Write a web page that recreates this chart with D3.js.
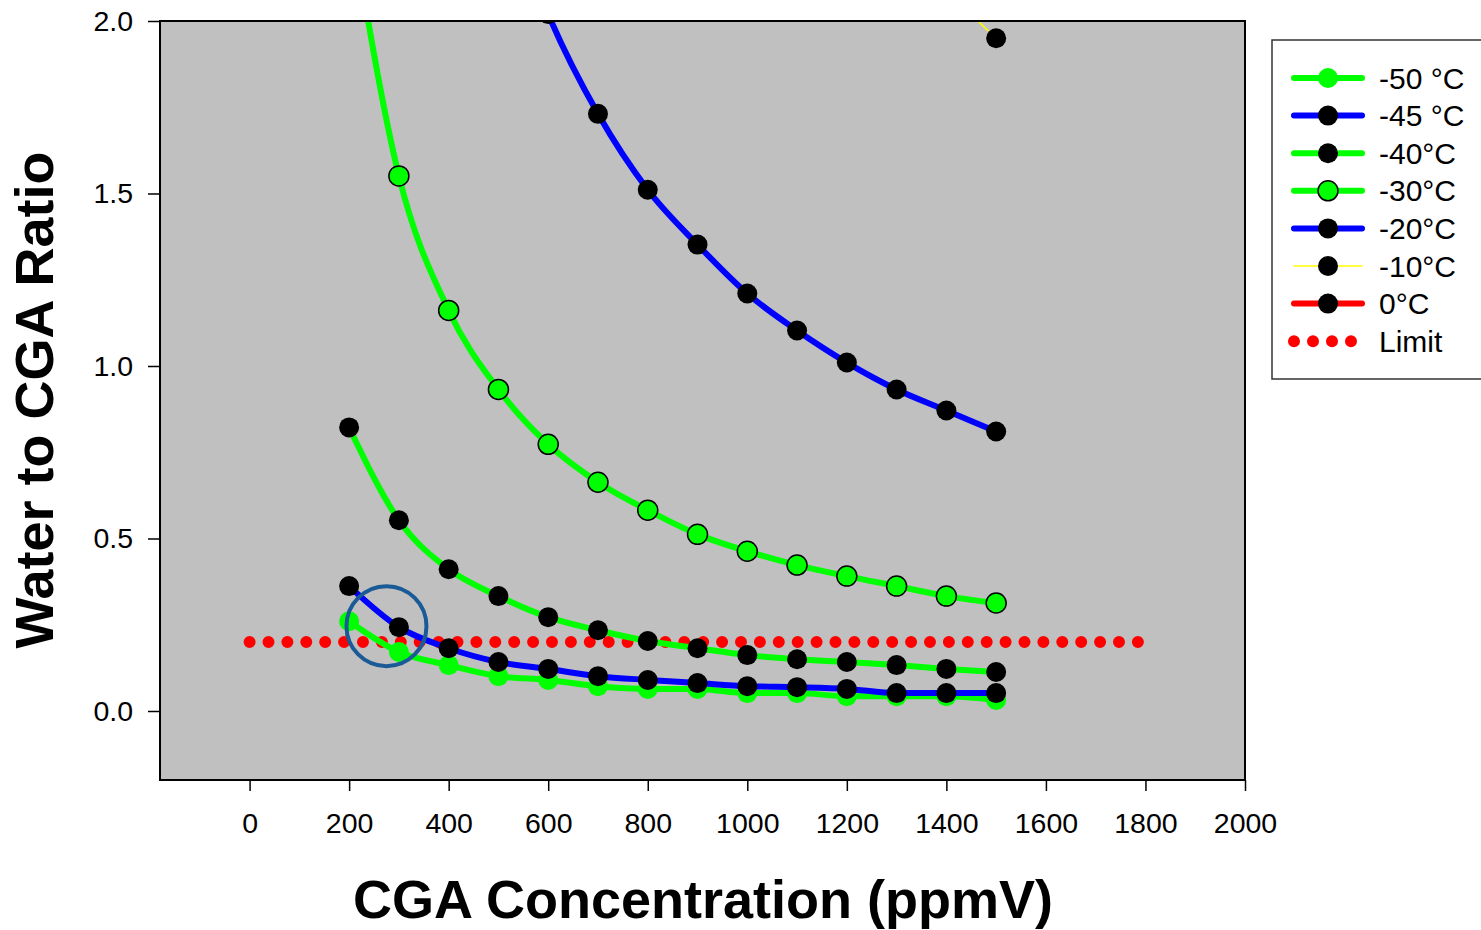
<!DOCTYPE html>
<html>
<head>
<meta charset="utf-8">
<script src="https://cdn.jsdelivr.net/npm/d3@7"></script>
<style>
  body { margin: 0; background: #fff; }
  text { font-family: "Liberation Sans", Arial, sans-serif; }
</style>
</head>
<body>
<div id="chart"></div>
<script>
// CGA concentration (ppmV)
var conc = [200, 300, 400, 500, 600, 700, 800, 900, 1000, 1100, 1200, 1300, 1400, 1500];

// water to CGA ratio, one array per temperature
var m50 = [0.26, 0.171, 0.133, 0.101, 0.090, 0.072, 0.064, 0.064, 0.052, 0.052, 0.043, 0.043, 0.043, 0.032];
var m45 = [0.362, 0.243, 0.182, 0.142, 0.122, 0.101, 0.090, 0.081, 0.072, 0.069, 0.064, 0.052, 0.052, 0.052];
var m40 = [0.822, 0.553, 0.411, 0.333, 0.272, 0.234, 0.203, 0.182, 0.162, 0.150, 0.142, 0.133, 0.122, 0.113];
var m30 = [2.33, 1.551, 1.161, 0.932, 0.773, 0.663, 0.582, 0.512, 0.463, 0.423, 0.391, 0.362, 0.333, 0.313];
var m20 = [6.05, 4.04, 3.03, 2.42, 2.02, 1.731, 1.511, 1.352, 1.210, 1.103, 1.010, 0.932, 0.871, 0.810];
var m10 = [14.6, 9.75, 7.3, 5.85, 4.88, 4.18, 3.66, 3.25, 2.93, 2.66, 2.44, 2.25, 2.09, 1.95];
var zero = [34.5, 23.0, 17.3, 13.8, 11.5, 9.86, 8.63, 7.67, 6.9, 6.27, 5.75, 5.31, 4.93, 4.6];

var limitX = [0, 1800];
var limitY = [0.2, 0.2];

var xTicks = [0, 200, 400, 600, 800, 1000, 1200, 1400, 1600, 1800, 2000];
var yTicks = [0.0, 0.5, 1.0, 1.5, 2.0];

var series = [
    {name: "-50 \u00b0C", values: m50, line: "#00ff00", width: 6, dot: "#00ff00", outline: "none"},
    {name: "-45 \u00b0C", values: m45, line: "#0000ff", width: 6, dot: "#000", outline: "none"},
    {name: "-40\u00b0C", values: m40, line: "#00ff00", width: 6, dot: "#000", outline: "none"},
    {name: "-30\u00b0C", values: m30, line: "#00ff00", width: 6, dot: "#00ff00", outline: "#000"},
    {name: "-20\u00b0C", values: m20, line: "#0000ff", width: 6, dot: "#000", outline: "none"},
    {name: "-10\u00b0C", values: m10, line: "#ffff00", width: 1.5, dot: "#000", outline: "none"},
    {name: "0\u00b0C", values: zero, line: "#ff0000", width: 6, dot: "#000", outline: "none"}
];

var width = 1481, height = 930;
var plotLeft = 160, plotRight = 1245, plotTop = 21, plotBottom = 780;

var x = d3.scaleLinear().domain([-180, 2000]).range([plotLeft, plotRight]);
var y = d3.scaleLinear().domain([-0.2, 2.0]).range([plotBottom, plotTop]);

var svg = d3.select("#chart")
    .append("svg")
    .attr("width", width)
    .attr("height", height);

svg.append("defs").append("clipPath")
    .attr("id", "plotclip")
    .append("rect")
    .attr("x", plotLeft)
    .attr("y", plotTop)
    .attr("width", plotRight - plotLeft)
    .attr("height", plotBottom - plotTop);

svg.append("rect")
    .attr("x", plotLeft)
    .attr("y", plotTop)
    .attr("width", plotRight - plotLeft)
    .attr("height", plotBottom - plotTop)
    .attr("fill", "#c0c0c0");

var plot = svg.append("g").attr("clip-path", "url(#plotclip)");

// limit line (red dots)
plot.append("path")
    .datum(d3.zip(limitX, limitY))
    .attr("d", d3.line()
        .x(function (d) { return x(d[0]); })
        .y(function (d) { return y(d[1]); }))
    .attr("fill", "none")
    .attr("stroke", "#ff0000")
    .attr("stroke-width", 12)
    .attr("stroke-linecap", "round")
    .attr("stroke-dasharray", "0,18.9");

var line = d3.line()
    .curve(d3.curveMonotoneX)
    .x(function (d) { return x(d[0]); })
    .y(function (d) { return y(d[1]); });

series.forEach(function (s) {
    var pts = d3.zip(conc, s.values);
    plot.append("path")
        .datum(pts)
        .attr("d", line)
        .attr("fill", "none")
        .attr("stroke", s.line)
        .attr("stroke-width", s.width);
    plot.selectAll(null)
        .data(pts.filter(function (d) { return d[1] <= 2.1; }))
        .enter()
        .append("circle")
        .attr("cx", function (d) { return x(d[0]); })
        .attr("cy", function (d) { return y(d[1]); })
        .attr("r", 10)
        .attr("fill", s.dot)
        .attr("stroke", s.outline)
        .attr("stroke-width", 1.5);
});

// annotation circle
plot.append("circle")
    .attr("cx", x(275))
    .attr("cy", y(0.246))
    .attr("r", 40)
    .attr("fill", "none")
    .attr("stroke", "#1a5a96")
    .attr("stroke-width", 4);

// frame
svg.append("rect")
    .attr("x", plotLeft)
    .attr("y", plotTop)
    .attr("width", plotRight - plotLeft)
    .attr("height", plotBottom - plotTop)
    .attr("fill", "none")
    .attr("stroke", "#000")
    .attr("stroke-width", 2);

var xAxis = svg.append("g")
    .attr("transform", "translate(0," + plotBottom + ")")
    .call(d3.axisBottom(x).tickValues(xTicks).tickFormat(d3.format("d"))
        .tickSize(11).tickSizeOuter(0).tickPadding(22));
xAxis.select(".domain").remove();

var yAxis = svg.append("g")
    .attr("transform", "translate(" + plotLeft + ",0)")
    .call(d3.axisLeft(y).tickValues(yTicks).tickFormat(d3.format(".1f"))
        .tickSize(12).tickSizeOuter(0).tickPadding(15));
yAxis.select(".domain").remove();

svg.selectAll(".tick line").attr("stroke", "#000").attr("stroke-width", 1.5);
svg.selectAll(".tick text")
    .attr("font-size", 28.5)
    .attr("font-family", "Liberation Sans, Arial, sans-serif")
    .attr("fill", "#000");

svg.append("text")
    .attr("x", 703)
    .attr("y", 918)
    .attr("text-anchor", "middle")
    .attr("font-size", 54)
    .attr("font-weight", "bold")
    .text("CGA Concentration (ppmV)");

svg.append("text")
    .attr("transform", "translate(53,400) rotate(-90)")
    .attr("text-anchor", "middle")
    .attr("font-size", 54)
    .attr("font-weight", "bold")
    .text("Water to CGA Ratio");

// legend
var legend = svg.append("g");
legend.append("rect")
    .attr("x", 1272)
    .attr("y", 40)
    .attr("width", 230)
    .attr("height", 339)
    .attr("fill", "#fff")
    .attr("stroke", "#333")
    .attr("stroke-width", 1.5);

var entries = series.concat([{name: "Limit"}]);
var item = legend.selectAll(".item")
    .data(entries)
    .enter()
    .append("g")
    .attr("class", "item")
    .attr("transform", function (d, i) { return "translate(0," + (78 + i * 37.6) + ")"; });

item.filter(function (d) { return d.values; })
    .append("line")
    .attr("x1", 1294).attr("x2", 1362)
    .attr("stroke", function (d) { return d.line; })
    .attr("stroke-width", function (d) { return d.width; })
    .attr("stroke-linecap", "round");

item.filter(function (d) { return d.values; })
    .append("circle")
    .attr("cx", 1328)
    .attr("r", 10)
    .attr("fill", function (d) { return d.dot; })
    .attr("stroke", function (d) { return d.outline; })
    .attr("stroke-width", 1.5);

item.filter(function (d) { return !d.values; })
    .append("line")
    .attr("x1", 1294).attr("x2", 1353)
    .attr("stroke", "#ff0000")
    .attr("stroke-width", 12)
    .attr("stroke-linecap", "round")
    .attr("stroke-dasharray", "0,19");

item.append("text")
    .attr("x", 1379)
    .attr("dy", "0.35em")
    .attr("font-size", 30)
    .text(function (d) { return d.name; });
</script>
</body>
</html>
